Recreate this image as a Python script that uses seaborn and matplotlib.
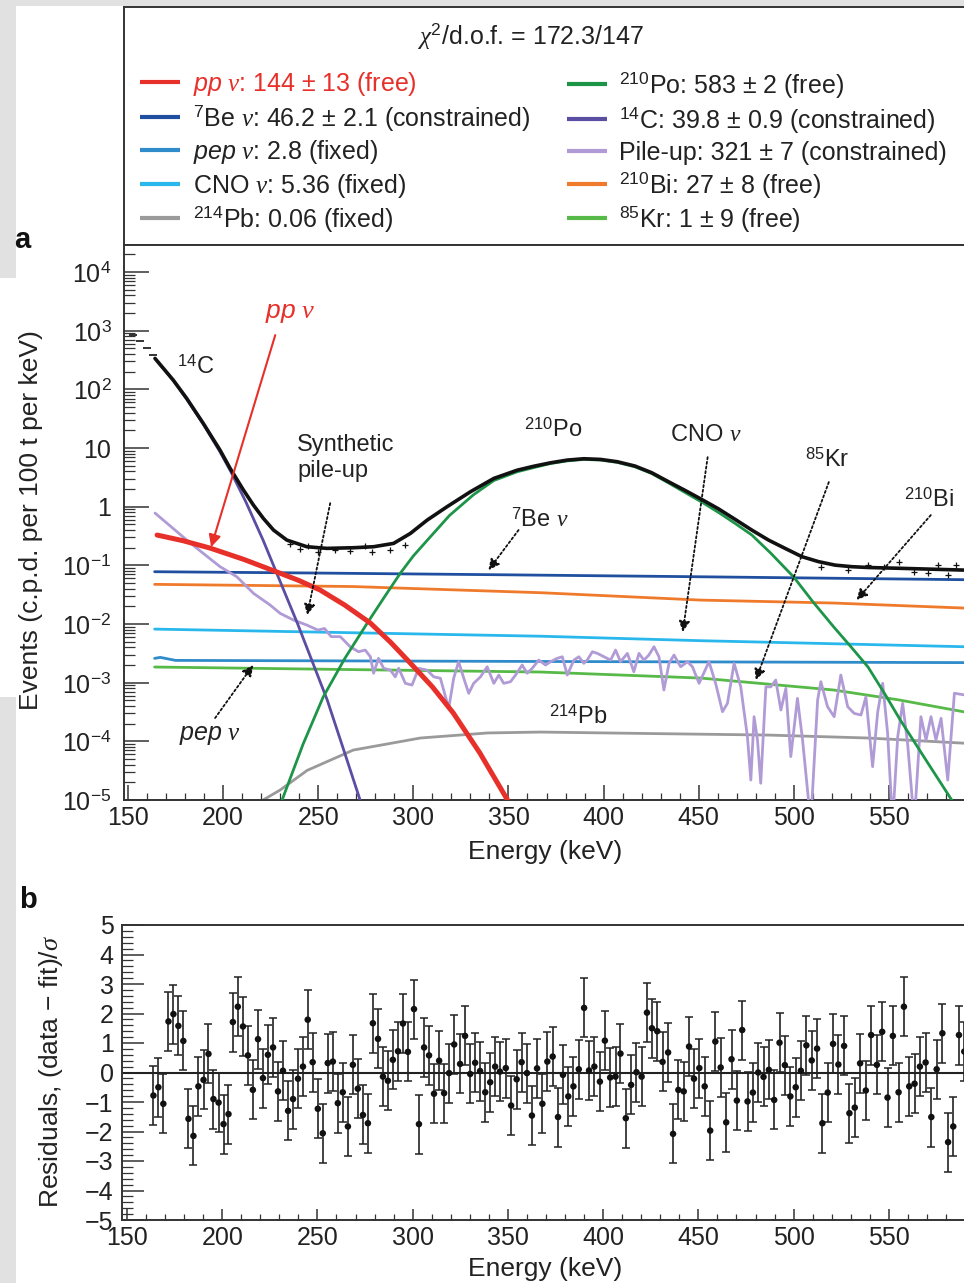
import numpy as np
import pandas as pd
import seaborn as sns
import matplotlib.pyplot as plt
from matplotlib.patches import Rectangle
from matplotlib.ticker import MultipleLocator, LogLocator, NullFormatter

# ---------------- panel a : fitted spectrum (c.p.d. per 100 t per keV)
fit_energy = [164.2, 173.8, 180.9, 189.6, 198.4, 203.7, 210.7, 215.9, 221.2, 226.5, 233.5, 244,
              254.6, 268.6, 279.1, 289.6, 298.4, 307.2, 317.7, 330, 342.3, 354.6, 363.3, 372.1,
              380.9, 389.6, 398.4, 407.2, 416.5, 425.3, 434.1, 442.8, 451.6, 460.4, 469.1,
              477.9, 486.7, 495.4, 504.2, 512.9, 521.7, 530.5, 539.3, 556.8, 590.2]
fit_total = [338, 144, 70, 26.3, 9.2, 4.5, 1.92, 1.07, 0.63, 0.40, 0.27, 0.208, 0.195, 0.2,
             0.208, 0.237, 0.35, 0.59, 1.0, 1.8, 3.04, 4.2, 4.9, 5.61, 6.24, 6.58, 6.41, 5.85,
             4.94, 3.8, 2.67, 1.9, 1.33, 0.92, 0.61, 0.40, 0.27, 0.195, 0.141, 0.116, 0.101,
             0.095, 0.092, 0.089, 0.083]

data_energy = [152.6, 156.3, 160.0, 163.2, 235.3, 240.5, 244.7, 250.0, 259.0, 266.8, 274.7,
               278.4, 287.9, 295.8, 514.2, 528.4, 538.9, 547.4, 555.3, 563.2, 570.5, 575.8,
               581.0, 585.3]
data_rate = [843, 665, 506, 385, 0.232, 0.192, 0.215, 0.17, 0.185, 0.175, 0.21, 0.17, 0.18,
             0.22, 0.0935, 0.083, 0.101, 0.0935, 0.114, 0.077, 0.074, 0.101, 0.068, 0.101]

pp_energy = [165.3, 179, 193.2, 211, 228.4, 240, 251, 264, 277.4, 288, 298.4, 310, 321, 335, 349.5]
pp_rate = [0.329, 0.263, 0.197, 0.126, 0.0769, 0.055, 0.038, 0.021, 0.0104, 0.0049, 0.00216,
           8.5e-4, 3.04e-4, 6.3e-5, 1e-5]

c14_energy = [164.2, 173.8, 180.9, 189.6, 198.4, 204, 212, 221, 239, 254.7, 263, 272]
c14_rate = [336, 142, 68, 25.5, 8.6, 4.0, 1.2, 0.27, 0.0104, 5.1e-4, 7.8e-5, 1e-5]

po_energy = [231, 242, 252.6, 264, 275.8, 284.5, 293.2, 300, 307.4, 319, 331.6, 342.3, 354.6,
             363.3, 372.1, 380.9, 389.6, 398.4, 407.2, 416.5, 425.3, 434.1, 442.8, 451.6,
             460.4, 469.1, 477.9, 488, 500, 510, 521, 530, 539, 548, 556, 570, 583]
po_rate = [1e-5, 8.9e-5, 5.7e-4, 2.6e-3, 0.0104, 0.028, 0.074, 0.145, 0.27, 0.71, 1.6, 2.8,
           3.95, 4.65, 5.45, 6.05, 6.4, 6.25, 5.7, 4.8, 3.68, 2.55, 1.75, 1.2, 0.80, 0.52,
           0.33, 0.16, 0.063, 0.024, 0.0089, 0.0041, 0.00185, 6.3e-4, 2.3e-4, 4.5e-5, 1e-5]

be7_energy = [164, 250, 350, 450, 590]
be7_rate = [0.078, 0.074, 0.069, 0.064, 0.057]

bi_energy = [164, 268, 367, 451, 521, 590]
bi_rate = [0.0475, 0.0436, 0.0342, 0.0256, 0.0228, 0.0187]

cno_energy = [164, 367, 451, 590]
cno_rate = [0.0082, 0.0062, 0.0052, 0.0041]

pep_energy = [164, 167, 175, 367, 590]
pep_rate = [0.0026, 0.0027, 0.0024, 0.0023, 0.0022]

kr_energy = [164, 367, 451, 521, 555, 590]
kr_rate = [0.00185, 0.00152, 0.0012, 7.5e-4, 5.1e-4, 3.16e-4]

pb_energy = [215, 221, 230, 244.2, 268.4, 303.7, 339, 366.8, 415.8, 486.3, 539, 589.5]
pb_rate = [5e-6, 1e-5, 1.48e-5, 3.2e-5, 7.1e-5, 1.14e-4, 1.39e-4, 1.44e-4, 1.37e-4, 1.28e-4,
           1.14e-4, 9.3e-5]

pileup_energy = [164.2, 180.9, 189.6, 198.4, 207.2, 216.0, 224.7, 230.0, 237.0, 244.0, 249.8,
                 253.3, 256.8, 261.6, 266.8, 271.2, 274.7, 277.4, 279.1, 281.7, 284.4, 287.9,
                 290.5, 292.3, 295.8, 299.3, 302.8, 307.2, 310.7, 314.2, 318.6, 321.2, 323.8,
                 326.5, 329.1, 331.7, 335.3, 338.8, 342.3, 344.9, 347.5, 351.1, 353.7, 357.2,
                 359.8, 362.5, 365.9, 369.5, 372.1, 375.6, 378.3, 380.9, 384.4, 387.0, 389.6,
                 391.4, 394.1, 396.7, 400.2, 403.7, 406.3, 408.9, 412.5, 415.9, 418.6, 421.2,
                 423.8, 426.5, 429.1, 431.7, 434.4, 437.0, 440.5, 444.1, 446.7, 450.2, 455.4,
                 458.9, 462.5, 465.1, 468.6, 472.1, 475.6, 477.4, 479.1, 480.9, 482.6, 485.3,
                 487.9, 490.5, 493.2, 495.8, 498.4, 501.9, 504.6, 508.9, 512.5, 514.2, 517.7,
                 521.2, 524.7, 528.3, 531.7, 535.3, 537.9, 541.4, 544.1, 546.7, 549.3, 551.9,
                 554.6, 557.2, 559.8, 563.3, 566.8, 569.5, 572.1, 574.7, 577.4, 580.9, 584.4,
                 589.6]
pileup_rate = [0.78, 0.27, 0.16, 0.095, 0.064, 0.0333, 0.0211, 0.0152, 0.0117, 0.0096, 0.0079,
               0.0084, 0.0061, 0.0061, 4.10e-3, 3.37e-3, 3.60e-3, 2.77e-3, 1.45e-3, 2.60e-3,
               1.76e-3, 1.64e-3, 1.26e-3, 1.76e-3, 9.75e-4, 9.12e-4, 1.76e-3, 1.64e-3, 1.26e-3,
               1.19e-3, 3.66e-4, 1.19e-3, 2.28e-3, 1.19e-3, 6.59e-4, 9.75e-4, 1.26e-3, 1.87e-3,
               9.75e-4, 1.35e-3, 9.75e-4, 1.04e-3, 1.35e-3, 2.0e-3, 1.45e-3, 1.76e-3, 2.43e-3,
               2.0e-3, 2.28e-3, 2.60e-3, 2.77e-3, 1.35e-3, 2.43e-3, 2.77e-3, 2.14e-3, 2.43e-3,
               3.37e-3, 3.16e-3, 2.77e-3, 2.43e-3, 3.60e-3, 2.28e-3, 3.16e-3, 1.54e-3, 3.16e-3,
               2.43e-3, 2.96e-3, 4.10e-3, 2.77e-3, 7.5e-4, 2.14e-3, 2.96e-3, 1.87e-3, 2.28e-3,
               1.87e-3, 9.75e-4, 2.28e-3, 9.75e-4, 3.2e-4, 4.45e-4, 2.14e-3, 8.5e-4, 1.2e-4,
               2.19e-5, 2.63e-4, 1.05e-4, 1.93e-5, 8.5e-4, 8.5e-4, 1.11e-3, 3.42e-4, 8.0e-4,
               5.5e-5, 5.4e-4, 1.05e-4, 4e-6, 5.06e-4, 1.04e-3, 3.9e-4, 2.63e-4, 1.35e-3,
               3.9e-4, 3.0e-4, 2.81e-4, 5.77e-4, 3.7e-5, 3.2e-4, 9.75e-4, 1.37e-4, 4e-6,
               1.2e-4, 4.45e-4, 9.2e-5, 4e-6, 2.63e-4, 1.05e-4, 2.63e-4, 1.05e-4, 2.47e-4,
               2.19e-5, 6.6e-4, 6.2e-4]

# ---------------- panel b : residuals
res_energy = [163.9, 166.5, 169.1, 171.8, 174.4, 177.0, 179.6, 182.3, 184.9, 187.5, 190.2, 192.8,
              195.4, 198.1, 200.7, 203.3, 205.6, 208.2, 210.9, 213.5, 216.1, 218.8, 221.4, 224.0,
              226.7, 229.3, 231.9, 234.6, 237.2, 239.8, 242.4, 244.9, 247.5, 250.2, 252.8, 255.4,
              258.1, 260.7, 263.3, 266.0, 268.6, 271.2, 273.9, 276.5, 279.1, 281.8, 284.4, 287.0,
              289.6, 292.3, 294.9, 297.5, 300.7, 303.3, 306.0, 308.6, 311.2, 313.9, 316.5, 319.1,
              321.8, 324.9, 327.5, 330.2, 332.8, 335.4, 338.1, 340.7, 343.3, 345.8, 348.9, 351.7,
              354.6, 357.2, 360.0, 362.6, 365.3, 368.1, 370.7, 373.5, 376.3, 378.9, 381.7, 384.4,
              387.2, 390.0, 392.6, 395.4, 398.3, 400.9, 403.7, 406.5, 409.1, 411.9, 414.7, 417.5,
              420.2, 423.0, 425.6, 428.4, 431.2, 434.1, 436.7, 439.5, 442.3, 445.1, 447.7, 450.5,
              453.3, 456.2, 458.9, 461.7, 464.6, 467.4, 470.2, 473.0, 475.8, 478.6, 481.4, 484.2,
              487.0, 489.8, 492.6, 495.4, 498.3, 501.1, 503.8, 506.7, 509.5, 512.3, 515.1, 517.9,
              520.7, 523.5, 526.5, 529.3, 532.1, 534.9, 537.9, 540.7, 543.7, 546.5, 549.3, 552.1,
              555.1, 557.9, 560.7, 563.5, 566.3, 569.3, 572.3, 575.1, 578.1, 581.1, 583.8, 586.8,
              589.6]
res_value = [-0.78, -0.50, -1.06, 1.73, 1.98, 1.58, 1.07, -1.57, -2.15, -0.47, -0.25, 0.63,
             -0.90, -1.02, -1.75, -1.41, 1.71, 2.23, 1.56, 0.58, -0.59, 1.13, -0.19, 0.60,
             0.85, -0.64, 0.06, -1.30, -0.90, -0.21, 0.20, 1.79, 0.35, -1.23, -2.06, 0.32,
             0.37, -1.04, -0.67, -1.83, 0.26, -0.55, -1.44, -1.72, 1.67, 1.14, -0.14, -0.28,
             0.43, 0.72, 1.66, 0.70, 2.15, -1.75, 0.85, 0.58, -0.72, 0.40, -0.70, -0.02,
             0.95, 0.29, 1.24, -0.05, 0.33, 0.05, -0.67, -0.33, 0.20, 0.03, 0.15, -1.12,
             -0.23, 0.35, -0.02, -1.46, 0.14, -1.06, 0.37, 0.54, -1.51, -0.08, -0.81, -0.47,
             0.11, 2.19, 0.07, 0.20, -0.31, 1.08, -0.17, -0.14, 0.64, -1.55, -0.42, 0.01,
             -0.14, 2.03, 1.50, 1.40, 0.36, 0.68, -2.08, -0.59, -0.64, 0.88, -0.21, 0.15,
             -0.47, -1.97, 1.05, 0.17, -1.69, 0.45, -0.95, 1.44, -0.98, -0.68, 0.00, -0.15,
             0.09, -0.93, 1.01, 0.25, -0.81, -0.50, 0.06, 0.92, 0.41, 0.81, -1.72, -0.68,
             0.97, 0.27, 0.90, -1.38, -1.19, 0.31, -0.61, 1.27, 0.26, 1.38, -0.85, 1.24,
             -0.67, 2.23, -0.47, -0.38, 0.20, 0.34, -1.51, 0.11, 1.33, -2.36, -1.83, 1.27,
             0.71]

# ---------------- legend content
legend_left = [r"$\mathsf{pp}\ \nu$: 144 ± 13 (free)",
               r"$^{7}$Be $\nu$: 46.2 ± 2.1 (constrained)",
               r"$\mathsf{pep}\ \nu$: 2.8 (fixed)",
               r"CNO $\nu$: 5.36 (fixed)",
               r"$^{214}$Pb: 0.06 (fixed)"]
legend_right = [r"$^{210}$Po: 583 ± 2 (free)",
                r"$^{14}$C: 39.8 ± 0.9 (constrained)",
                r"Pile-up: 321 ± 7 (constrained)",
                r"$^{210}$Bi: 27 ± 8 (free)",
                r"$^{85}$Kr: 1 ± 9 (free)"]

RED = "#e8302a"
C_BE = "#1f4f9e"
C_PEP = "#2f8bc9"
C_CNO = "#2ab8ec"
C_PB = "#9a9a9a"
C_PO = "#1d9548"
C_C14 = "#5a4ea3"
C_PILE = "#b09bd6"
C_BI = "#f07a2c"
C_KR = "#57b947"
colors_left = [RED, C_BE, C_PEP, C_CNO, C_PB]
colors_right = [C_PO, C_C14, C_PILE, C_BI, C_KR]

sns.set_theme(style="ticks")
plt.rcParams['font.family'] = ['Liberation Sans', 'DejaVu Sans']
plt.rcParams['mathtext.fontset'] = 'custom'
plt.rcParams['mathtext.rm'] = 'Liberation Sans'
plt.rcParams['mathtext.it'] = 'Liberation Serif:italic'
plt.rcParams['mathtext.sf'] = 'Liberation Sans:italic'
plt.rcParams['mathtext.bf'] = 'Liberation Sans:bold'
plt.rcParams['axes.unicode_minus'] = True

W, H = 964, 1283
fig = plt.figure(figsize=(W / 100, H / 100), dpi=100)
fig.patch.set_facecolor("white")

# page background strips (the figure is a crop from a page)
gray = "#e1e1e1"
for (x0, y0, x1, y1) in [(0, 0, W, 6), (0, 0, 16, 278), (0, 697, 16, H)]:
    fig.add_artist(Rectangle((x0 / W, 1 - y1 / H), (x1 - x0) / W, (y1 - y0) / H,
                             transform=fig.transFigure, color=gray, lw=0, zorder=0))

SPINE = "#333333"


def px_box(left, top, right, bottom):
    return [left / W, 1 - bottom / H, (right - left) / W, (bottom - top) / H]


def style_spines(ax):
    for s in ax.spines.values():
        s.set_color(SPINE)
        s.set_linewidth(1.4)
    ax.spines['right'].set_visible(False)


# ---------------- legend box
axl = fig.add_axes(px_box(124, 7, W + 2, 245))
axl.set_xlim(0, 1)
axl.set_ylim(0, 1)
axl.set_xticks([])
axl.set_yticks([])
style_spines(axl)
axl.text(0.483, 0.845, r"$\chi^2$/d.o.f. = 172.3/147", ha="center", va="baseline",
         fontsize=18, color="#222")
rows_left = [0.648, 0.500, 0.361, 0.218, 0.075]
rows_right = [0.640, 0.492, 0.357, 0.218, 0.075]
for lab, col, yb in zip(legend_left, colors_left, rows_left):
    axl.plot([0.019, 0.067], [yb + 0.037] * 2, color=col, lw=3, solid_capstyle="butt")
    axl.text(0.082, yb, lab, ha="left", va="baseline", fontsize=18,
             color=RED if col == RED else "#222")
for lab, col, yb in zip(legend_right, colors_right, rows_right):
    axl.plot([0.526, 0.574], [yb + 0.037] * 2, color=col, lw=3, solid_capstyle="butt")
    axl.text(0.588, yb, lab, ha="left", va="baseline", fontsize=18, color="#222")

# ---------------- panel a
ax = fig.add_axes(px_box(124, 245, W + 2, 800))
ax.set_yscale("log")


def draw(x, y, color, lw, z):
    sns.lineplot(x=x, y=y, ax=ax, color=color, lw=lw, zorder=z, sort=False, estimator=None,
                 solid_joinstyle="round")


draw(pb_energy, pb_rate, C_PB, 2.0, 2)
draw(kr_energy, kr_rate, C_KR, 2.0, 2)
draw(pep_energy, pep_rate, C_PEP, 2.0, 2)
draw(cno_energy, cno_rate, C_CNO, 2.0, 2)
draw(bi_energy, bi_rate, C_BI, 2.0, 2)
draw(be7_energy, be7_rate, C_BE, 2.0, 2)
draw(pileup_energy, pileup_rate, C_PILE, 2.0, 3)
draw(c14_energy, c14_rate, C_C14, 2.0, 3)
draw(po_energy, po_rate, C_PO, 2.0, 3)
draw(pp_energy, pp_rate, RED, 3.6, 4)
draw(fit_energy, fit_total, "#111111", 2.6, 5)
sns.scatterplot(x=data_energy[:4], y=data_rate[:4], ax=ax, marker="_", s=30, color="#111",
                linewidth=1.2, zorder=6)
sns.scatterplot(x=data_energy[4:], y=data_rate[4:], ax=ax, marker="+", s=22, color="#111",
                linewidth=0.9, zorder=6)

ax.set_xlim(147.9, 590.5)
ax.set_ylim(1e-5, 2.9e4)
ax.set_xlabel("")
ax.set_ylabel("")
ax.set_xticks([150, 200, 250, 300, 350, 400, 450, 500, 550])
ax.xaxis.set_minor_locator(MultipleLocator(10))
ax.set_yticks([1e-5, 1e-4, 1e-3, 1e-2, 1e-1, 1, 10, 1e2, 1e3, 1e4],
              [r"$10^{-5}$", r"$10^{-4}$", r"$10^{-3}$", r"$10^{-2}$", r"$10^{-1}$",
               "1", "10", r"$10^{2}$", r"$10^{3}$", r"$10^{4}$"])
ax.yaxis.set_minor_locator(LogLocator(base=10, subs=np.arange(2, 10), numticks=30))
ax.yaxis.set_minor_formatter(NullFormatter())
ax.tick_params(axis="y", which="major", direction="in", length=18, width=1.1, labelsize=18,
               pad=9, colors=SPINE, labelcolor="#222", right=False)
ax.tick_params(axis="y", which="minor", direction="in", length=8, width=0.9, colors=SPINE,
               right=False)
ax.tick_params(axis="x", which="major", direction="in", length=11, width=1.1, labelsize=18,
               pad=4, colors=SPINE, labelcolor="#222", top=False)
ax.tick_params(axis="x", which="minor", direction="in", length=5, width=0.9, colors=SPINE,
               top=False)
style_spines(ax)

# labels inside panel a
ax.text(185.3, 240, r"$^{14}$C", fontsize=17, ha="center", va="center", color="#222")
ax.text(235.3, 2000, r"$\mathsf{pp}\ \nu$", fontsize=19, ha="center", va="center", color=RED)
ax.text(238.9, 6.7, "Synthetic\npile-up", fontsize=17, ha="left", va="center",
        linespacing=1.25, color="#222")
ax.text(373.7, 20.2, r"$^{210}$Po", fontsize=17, ha="center", va="center", color="#222")
ax.text(366.8, 0.59, r"$^{7}$Be $\nu$", fontsize=17, ha="center", va="center", color="#222")
ax.text(453.7, 16.6, r"CNO $\nu$", fontsize=17, ha="center", va="center", color="#222")
ax.text(517.4, 6.2, r"$^{85}$Kr", fontsize=17, ha="center", va="center", color="#222")
ax.text(571, 1.3, r"$^{210}$Bi", fontsize=17, ha="center", va="center", color="#222")
ax.text(193.2, 1.28e-4, r"$\mathsf{pep}\ \nu$", fontsize=18, ha="center", va="center",
        color="#222")
ax.text(386.8, 2.6e-4, r"$^{214}$Pb", fontsize=17, ha="center", va="center", color="#222")

ax.annotate("", xy=(193.7, 0.205), xytext=(227.4, 843),
            arrowprops=dict(arrowstyle="-|>", color=RED, lw=1.5, shrinkA=0, shrinkB=0,
                            mutation_scale=18), zorder=7)
dotted_arrows = [((256.3, 1.15), (244.2, 0.0142)),
                 ((355.3, 0.40), (339.5, 0.083)),
                 ((454.7, 7.0), (441.6, 0.0073)),
                 ((518.4, 2.63), (480.0, 0.00111)),
                 ((572.0, 0.72), (533.0, 0.0256)),
                 ((195.8, 2.5e-4), (215.8, 0.002))]
for start, end in dotted_arrows:
    ax.annotate("", xy=end, xytext=start,
                arrowprops=dict(arrowstyle="-|>", color="#111", lw=1.3, ls=(0, (1.2, 1.4)),
                                shrinkA=0, shrinkB=0, mutation_scale=16), zorder=7)

# ---------------- panel b
axb = fig.add_axes(px_box(122, 925, W + 2, 1220))
axb.axhline(0, color="#222", lw=1.5, zorder=1)
axb.errorbar(res_energy, res_value, yerr=1.0, fmt="none", ecolor="#222", elinewidth=1.2,
             capsize=2.6, capthick=1.1, zorder=2)
sns.scatterplot(x=res_energy, y=res_value, ax=axb, color="#111", s=22, edgecolor="none",
                zorder=3)
axb.set_xlim(147.4, 590.5)
axb.set_ylim(-5, 5)
axb.set_xlabel("")
axb.set_ylabel("")
axb.set_xticks([150, 200, 250, 300, 350, 400, 450, 500, 550])
axb.xaxis.set_minor_locator(MultipleLocator(10))
axb.set_yticks(range(-5, 6))
axb.yaxis.set_minor_locator(MultipleLocator(0.2))
axb.tick_params(axis="y", which="major", direction="in", length=16, width=1.1, labelsize=18,
                pad=6, colors=SPINE, labelcolor="#222", right=False)
axb.tick_params(axis="y", which="minor", direction="in", length=8, width=0.9, colors=SPINE,
                right=False)
axb.tick_params(axis="x", which="major", direction="in", length=8, width=1.1, labelsize=18,
                pad=4, colors=SPINE, labelcolor="#222", top=False)
axb.tick_params(axis="x", which="minor", direction="in", length=4, width=0.9, colors=SPINE,
                top=False)
style_spines(axb)

# axis titles and panel letters
fig.text(31 / W, 1 - 520 / H, "Events (c.p.d. per 100 t per keV)", rotation=90,
         ha="center", va="center", fontsize=19, color="#222")
fig.text(545 / W, 1 - 852 / H, "Energy (keV)", ha="center", va="center", fontsize=19,
         color="#222")
fig.text(51 / W, 1 - 1071 / H, r"Residuals, (data − fit)/$\sigma$", rotation=90,
         ha="center", va="center", fontsize=19, color="#222")
fig.text(545 / W, 1 - 1269 / H, "Energy (keV)", ha="center", va="center", fontsize=19,
         color="#222")
fig.text(22 / W, 1 - 240 / H, "a", ha="center", va="center", fontsize=21,
         fontweight="bold", color="#111")
fig.text(28 / W, 1 - 900 / H, "b", ha="center", va="center", fontsize=21,
         fontweight="bold", color="#111")

fig.savefig("out.png", dpi=100)
